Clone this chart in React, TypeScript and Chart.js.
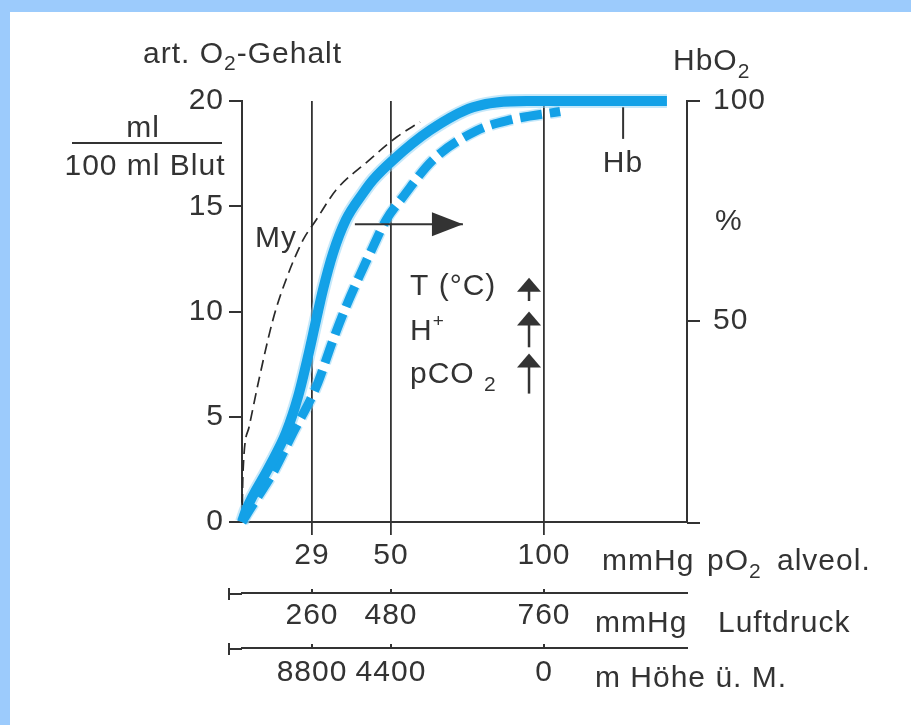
import React, { useEffect, useRef } from 'react';
import { Chart, registerables, LinearScale } from 'chart.js';

// ---------------- data ----------------
const PO2_TICKS = [29, 50, 100];
const LUFTDRUCK_LABELS = ['260', '480', '760'];
const HOEHE_LABELS = ['8800', '4400', '0'];
const SAT_TICKS = [50, 100];

// Hb (normal) O2 content, ml / 100 ml blood, vs alveolar pO2 (mmHg)
const HB_X = [0, 1.7, 11.2, 18.2, 23.2, 27.3, 30.1, 31.9, 34.6, 38.0, 42.6, 45.2, 50.7, 62.7, 76.8, 94.4, 140.4];
const HB_Y = [0, 0.57, 2.61, 4.23, 5.94, 7.84, 9.6, 11.02, 12.78, 14.35, 15.63, 16.25, 17.2, 18.6, 19.7, 20.0, 20.0];
// Hb right-shifted (T, H+, pCO2 up)
const HB_SHIFT_X = [0, 5.8, 12.8, 21.1, 30.1, 34.6, 38.0, 41.5, 45.2, 48.7, 53.9, 63.7, 78.1, 88.9, 105.3];
const HB_SHIFT_Y = [0, 1.05, 2.33, 4.23, 6.41, 8.65, 10.21, 11.64, 13.06, 14.35, 15.44, 17.2, 18.6, 19.1, 19.5];
// Myoglobin
const MY_X = [0, 0.4, 2.9, 7.0, 12.8, 18.2, 25.3, 30.1, 35.4, 43.6, 52.0, 59.5];
const MY_Y = [0, 2.33, 4.5, 6.75, 9.6, 11.5, 13.4, 14.35, 15.77, 17.1, 18.3, 19.0];
// right-shift arrow
const SHIFT_ARROW_X = [40.4, 73.5];
const SHIFT_ARROW_Y = [14.15, 14.15];
// small up arrows (T, H+, pCO2)
const FACTOR_X = 95.1;
const FACTOR_TOP = [11.6, 10.0, 8.0];
const FACTOR_BOTTOM = [10.5, 8.3, 6.1];
// Hb marker
const HB_MARK_X = 126;
const HB_MARK_Y = [19.7, 18.2];

// ---------------- layout / style ----------------
const FONT = '"Liberation Sans", Arial, Helvetica, sans-serif';
const FS = 30;
const INK = '#333333';
const BLUE = '#13a1e7';
const HALO = 'rgba(140,210,245,0.5)';
const X_MAX = 147;
const X_BREAKS = [0, 29, 50, 100, 147];
const X_FRACS = [0, 0.1573, 0.3348, 0.6787, 1];

function toFrac(v: number) {
  const b = X_BREAKS, f = X_FRACS;
  let i = 0;
  while (i < b.length - 2 && v > b[i + 1]) i++;
  return f[i] + ((v - b[i]) / (b[i + 1] - b[i])) * (f[i + 1] - f[i]);
}
function fromFrac(d: number) {
  const b = X_BREAKS, f = X_FRACS;
  let i = 0;
  while (i < f.length - 2 && d > f[i + 1]) i++;
  return b[i] + ((d - f[i]) / (f[i + 1] - f[i])) * (b[i + 1] - b[i]);
}

class PiecewiseScale extends LinearScale {
  static id = 'piecewise';
  static defaults = {};
  getPixelForValue(value: any) {
    if (value === null || value === undefined || isNaN(value)) return NaN;
    return (this as any).getPixelForDecimal(toFrac(+value));
  }
  getValueForPixel(pixel: number) {
    return fromFrac((this as any).getDecimalForPixel(pixel));
  }
}

Chart.register(...registerables);
Chart.register(PiecewiseScale as any);

type Part = { t: string; size?: number; dy?: number };
type Label = { x?: number; cx?: number; y: number; parts: Part[] };

const LABELS: Label[] = [
  { x: 143, y: 63, parts: [{ t: 'art. O' }, { t: '2', size: 21, dy: 7 }, { t: '-Gehalt' }] },
  { cx: 143, y: 137, parts: [{ t: 'ml' }] },
  { cx: 145, y: 175, parts: [{ t: '100 ml Blut' }] },
  { x: 255, y: 247, parts: [{ t: 'My' }] },
  { x: 410, y: 295, parts: [{ t: 'T (°C)' }] },
  { x: 410, y: 340, parts: [{ t: 'H' }, { t: '+', size: 19, dy: -13 }] },
  { x: 410, y: 383, parts: [{ t: 'pCO ' }, { t: '2', size: 21, dy: 8 }] },
  { cx: 623, y: 172, parts: [{ t: 'Hb' }] },
  { x: 673, y: 70, parts: [{ t: 'HbO' }, { t: '2', size: 21, dy: 8 }] },
  { x: 715, y: 230, parts: [{ t: '%' }] },
  { x: 602, y: 570, parts: [{ t: 'mmHg' }] },
  { x: 707, y: 570, parts: [{ t: 'pO' }, { t: '2', size: 21, dy: 8 }] },
  { x: 777, y: 570, parts: [{ t: 'alveol.' }] },
  { x: 595, y: 632, parts: [{ t: 'mmHg' }] },
  { x: 718, y: 632, parts: [{ t: 'Luftdruck' }] },
  { x: 595, y: 687, parts: [{ t: 'm Höhe ü. M.' }] },
];

function partsWidth(ctx: CanvasRenderingContext2D, parts: Part[]) {
  let w = 0;
  for (const p of parts) {
    ctx.font = `${p.size ?? FS}px ${FONT}`;
    w += ctx.measureText(p.t).width;
  }
  return w;
}
function drawParts(ctx: CanvasRenderingContext2D, x: number, y: number, parts: Part[]) {
  let cx = x;
  for (const p of parts) {
    ctx.font = `${p.size ?? FS}px ${FONT}`;
    ctx.fillText(p.t, cx, y + (p.dy ?? 0));
    cx += ctx.measureText(p.t).width;
  }
}
function seg(ctx: CanvasRenderingContext2D, x1: number, y1: number, x2: number, y2: number) {
  ctx.beginPath();
  ctx.moveTo(x1, y1);
  ctx.lineTo(x2, y2);
  ctx.stroke();
}

const annotate = {
  id: 'annotate',
  beforeDraw(chart: any) {
    chart.ctx.letterSpacing = '1px';
  },
  afterDraw(chart: any) {
    const { ctx, scales, chartArea } = chart;
    const x = scales.x, y = scales.y;
    ctx.save();
    ctx.letterSpacing = '1px';
    ctx.fillStyle = INK;
    ctx.strokeStyle = INK;
    ctx.lineWidth = 2;
    ctx.setLineDash([]);

    // main x-axis extends beyond the right axis
    seg(ctx, chartArea.right, x.top + 1, chartArea.right + 13, x.top + 1);
    // extra scales: left extension, end bar, small upward ticks
    for (const s of [scales.x2, scales.x3]) {
      const yy = s.top + 1;
      seg(ctx, 228, yy, chartArea.left, yy);
      seg(ctx, 229, yy - 6, 229, yy + 6);
      s.ticks.forEach((t: any) => {
        const px = s.getPixelForValue(t.value);
        seg(ctx, px, yy - 5, px, yy);
      });
    }

    // right-shift arrow head
    const meta = chart.getDatasetMeta(5);
    const last = meta.data[meta.data.length - 1];
    if (last) {
      ctx.beginPath();
      ctx.moveTo(last.x, last.y);
      ctx.lineTo(last.x - 31, last.y - 12);
      ctx.lineTo(last.x - 31, last.y + 12);
      ctx.closePath();
      ctx.fill();
    }

    // factor arrows
    const fx = x.getPixelForValue(FACTOR_X);
    FACTOR_TOP.forEach((top, i) => {
      const yt = y.getPixelForValue(top);
      const yb = y.getPixelForValue(FACTOR_BOTTOM[i]);
      ctx.lineWidth = 2.5;
      seg(ctx, fx, yt + 8, fx, yb);
      ctx.beginPath();
      ctx.moveTo(fx, yt);
      ctx.lineTo(fx - 12, yt + 14);
      ctx.lineTo(fx + 12, yt + 14);
      ctx.closePath();
      ctx.fill();
    });

    // Hb marker
    ctx.lineWidth = 2;
    const hx = x.getPixelForValue(HB_MARK_X);
    seg(ctx, hx, y.getPixelForValue(HB_MARK_Y[0]), hx, y.getPixelForValue(HB_MARK_Y[1]));

    // fraction bar
    seg(ctx, 72, 143, 222, 143);

    // texts
    ctx.textAlign = 'left';
    ctx.textBaseline = 'alphabetic';
    for (const l of LABELS) {
      const sx = l.cx !== undefined ? l.cx - partsWidth(ctx, l.parts) / 2 : (l.x as number);
      drawParts(ctx, sx, l.y, l.parts);
    }
    ctx.restore();
  },
};

function pts(xs: number[], ys: number[]) {
  return xs.map((v, i) => ({ x: v, y: ys[i] }));
}

export default function App() {
  const ref = useRef<HTMLCanvasElement>(null);
  useEffect(() => {
    const tickFont = { family: FONT, size: FS };
    const common = { clip: false as any, pointRadius: 0, fill: false, cubicInterpolationMode: 'monotone' as const, xAxisID: 'x', yAxisID: 'y' };
    const chart = new Chart(ref.current as HTMLCanvasElement, {
      type: 'line',
      data: {
        datasets: [
          { ...common, data: pts(HB_X, HB_Y), borderColor: HALO, borderWidth: 14, order: 6 },
          { ...common, data: pts(HB_SHIFT_X, HB_SHIFT_Y), borderColor: HALO, borderWidth: 12, borderDash: [22, 8], order: 7 },
          { ...common, data: pts(MY_X, MY_Y), borderColor: '#2a2a2a', borderWidth: 1.7, borderDash: [11, 6], order: 5 },
          { ...common, data: pts(HB_SHIFT_X, HB_SHIFT_Y), borderColor: BLUE, borderWidth: 9, borderDash: [22, 8], order: 2 },
          { ...common, data: pts(HB_X, HB_Y), borderColor: BLUE, borderWidth: 10, order: 1 },
          { ...common, data: pts(SHIFT_ARROW_X, SHIFT_ARROW_Y), borderColor: INK, borderWidth: 2, tension: 0, order: 0 },
        ] as any,
      },
      options: {
        animation: false,
        responsive: false,
        events: [],
        layout: { padding: { top: 101, left: 0, right: 0, bottom: 27 } },
        plugins: { legend: { display: false }, tooltip: { enabled: false } },
        scales: {
          x: {
            type: 'piecewise' as any,
            position: 'bottom',
            weight: 0,
            min: 0,
            max: X_MAX,
            bounds: 'data',
            afterBuildTicks: (s: any) => { s.ticks = PO2_TICKS.map((v) => ({ value: v })); },
            afterFit: (s: any) => { s.height = 71; },
            grid: { display: true, drawOnChartArea: true, color: INK, lineWidth: 1.8, tickLength: 13 },
            border: { display: true, color: INK, width: 2 },
            ticks: { font: tickFont, color: INK, padding: 3, maxRotation: 0, autoSkip: false, callback: (v: any) => String(v) },
          },
          x2: {
            type: 'piecewise' as any,
            axis: 'x',
            position: 'bottom',
            weight: 1,
            min: 0,
            max: X_MAX,
            bounds: 'data',
            afterBuildTicks: (s: any) => { s.ticks = PO2_TICKS.map((v) => ({ value: v })); },
            afterFit: (s: any) => { s.height = 55; },
            grid: { display: false, drawTicks: false, drawOnChartArea: false },
            border: { display: true, color: INK, width: 2 },
            ticks: { font: tickFont, color: INK, padding: 5, maxRotation: 0, autoSkip: false, callback: (_v: any, i: number) => LUFTDRUCK_LABELS[i] },
          },
          x3: {
            type: 'piecewise' as any,
            axis: 'x',
            position: 'bottom',
            weight: 2,
            min: 0,
            max: X_MAX,
            bounds: 'data',
            afterBuildTicks: (s: any) => { s.ticks = PO2_TICKS.map((v) => ({ value: v })); },
            afterFit: (s: any) => { s.height = 50; },
            grid: { display: false, drawTicks: false, drawOnChartArea: false },
            border: { display: true, color: INK, width: 2 },
            ticks: { font: tickFont, color: INK, padding: 7, maxRotation: 0, autoSkip: false, callback: (_v: any, i: number) => HOEHE_LABELS[i] },
          },
          y: {
            type: 'linear',
            position: 'left',
            min: 0,
            max: 20,
            afterFit: (s: any) => { s.width = 242; },
            grid: { display: true, drawOnChartArea: false, color: INK, lineWidth: 2, tickLength: 13 },
            border: { display: true, color: INK, width: 2 },
            ticks: { stepSize: 5, font: tickFont, color: INK, padding: 5 },
          },
          y1: {
            type: 'linear',
            position: 'right',
            min: 4.3,
            max: 100,
            bounds: 'data',
            afterBuildTicks: (s: any) => { s.ticks = SAT_TICKS.map((v) => ({ value: v })); },
            afterFit: (s: any) => { s.width = 224; },
            grid: { display: true, drawOnChartArea: false, color: INK, lineWidth: 2, tickLength: 13 },
            border: { display: true, color: INK, width: 2 },
            ticks: { font: tickFont, color: INK, padding: 13, callback: (v: any) => String(v) },
          },
        },
      } as any,
      plugins: [annotate as any],
    });
    return () => chart.destroy();
  }, []);

  return (
    <div style={{ position: 'fixed', left: 0, top: 0, width: 911, height: 725, background: '#9ccbfc', overflow: 'hidden' }}>
      <div style={{ position: 'absolute', left: 10, top: 12, right: 0, bottom: 0, background: '#ffffff' }} />
      <canvas ref={ref} width={911} height={725} style={{ position: 'absolute', left: 0, top: 0, width: 911, height: 725 }} />
    </div>
  );
}
